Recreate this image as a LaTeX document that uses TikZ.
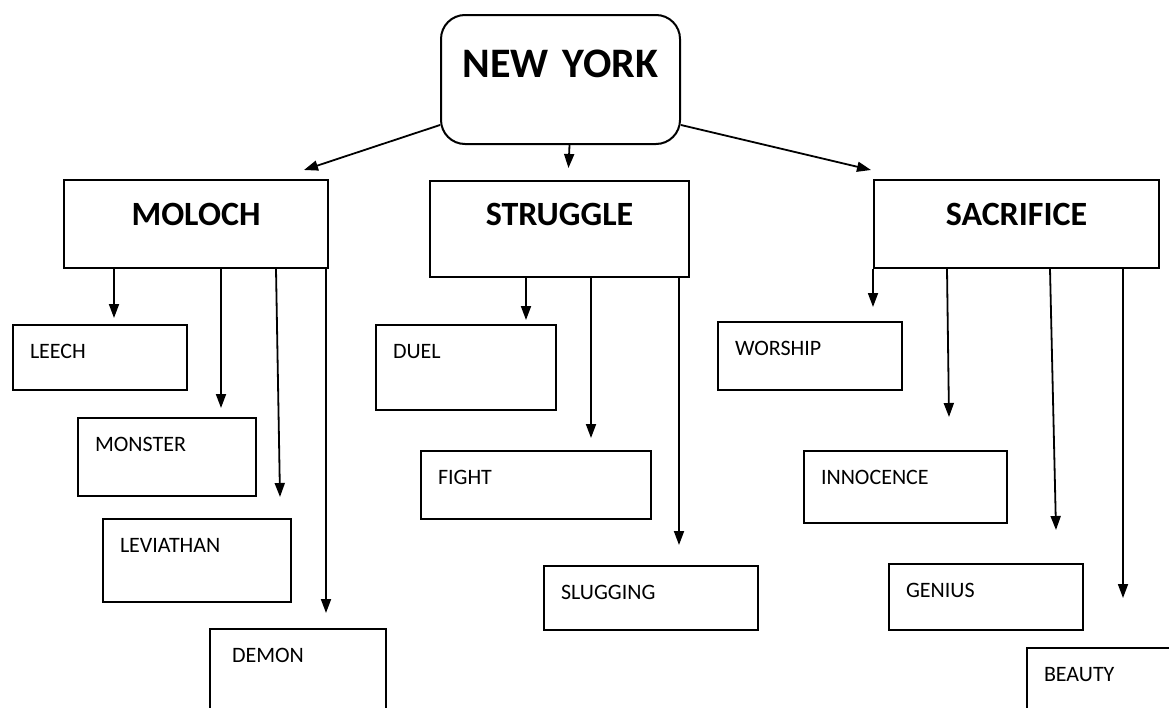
\documentclass[tikz,border=0pt]{standalone}
\usepackage{fontspec}
\setmainfont{Carlito}
\usetikzlibrary{arrows.meta}
\tikzset{
  topic/.style={
    rectangle, draw=black, line width=2pt, anchor=north west,
    inner sep=0pt, align=center, font=\bfseries\fontsize{34}{34}\selectfont
  },
  word/.style={
    rectangle, draw=black, line width=2pt, anchor=north west,
    inner xsep=17pt, inner ysep=0pt, align=left, text height=33pt,
    font=\fontsize{22}{22}\selectfont
  },
  arrow/.style={-{Triangle[length=14pt,width=10pt]}, line width=1.8pt, draw=black}
}

\begin{document}
\begin{tikzpicture}[x=1pt, y=-1pt]
\useasboundingbox (0,0) rectangle (1169,707);
\fill[white] (0,0) rectangle (1169,707);
\clip (0,0) rectangle (1169,707);
\node[topic, rounded corners=24pt, text width=239pt, text height=62pt, text depth=67pt,
  font=\bfseries\fontsize{42}{42}\selectfont] (newyork) at (440,14) {NEW YORK};
\node[topic, text width=264pt, text height=45pt, text depth=43pt] (moloch) at (63,179) {MOLOCH};
\node[topic, text width=259pt, text height=44pt, text depth=52pt] (struggle) at (429,180) {STRUGGLE};
\node[topic, text width=285pt, text height=45pt, text depth=43pt] (sacrifice) at (873,179) {SACRIFICE};
\node[word, text width=140pt, text depth=32pt] (leech) at (12,324) {LEECH};
\node[word, text width=144pt, text depth=45pt] (monster) at (77,417) {MONSTER};
\node[word, text width=154pt, text depth=50pt] (leviathan) at (102,518) {LEVIATHAN};
\node[word, text width=142pt, text depth=67pt] (demon) at (209,628) {\hspace{5pt}DEMON};
\node[word, text width=146pt, text depth=52pt] (duel) at (375,324) {DUEL};
\node[word, text width=196pt, text depth=35pt] (fight) at (420,450) {FIGHT};
\node[word, text width=180pt, text depth=31pt] (slugging) at (543,565) {SLUGGING};
\node[word, text width=150pt, text depth=35pt] (worship) at (717,321) {WORSHIP};
\node[word, text width=169pt, text depth=39pt] (innocence) at (803,450) {INNOCENCE};
\node[word, text width=160pt, text depth=33pt] (genius) at (888,563) {GENIUS};
\node[word, text width=136pt, text depth=57pt] (beauty) at (1026,647) {BEAUTY};
\draw[arrow] ([yshift=20pt]newyork.south west) -- ([xshift=-25pt,yshift=9pt]moloch.north east);
\draw[arrow] ([xshift=9pt]newyork.south) -- ([xshift=9pt,yshift=12pt]struggle.north);
\draw[arrow] ([yshift=20pt]newyork.south east) -- ([xshift=-2pt,yshift=9pt]sacrifice.north west);
\draw[arrow] ([xshift=51pt]moloch.south west) -- ([xshift=102pt,yshift=6pt]leech.north west);
\draw[arrow] ([xshift=158pt]moloch.south west) -- ([xshift=144pt,yshift=9pt]monster.north west);
\draw[arrow] ([xshift=213pt]moloch.south west) -- ([xshift=178pt,yshift=21pt]leviathan.north west);
\draw[arrow] ([xshift=263pt]moloch.south west) -- ([xshift=117pt,yshift=15pt]demon.north west);
\draw[arrow] ([xshift=97pt]struggle.south west) -- ([xshift=151pt,yshift=4pt]duel.north west);
\draw[arrow] ([xshift=162pt]struggle.south west) -- ([xshift=171pt,yshift=12pt]fight.north west);
\draw[arrow] ([xshift=250pt]struggle.south west) -- ([xshift=136pt,yshift=20pt]slugging.north west);
\draw[arrow] (sacrifice.south west) -- ([xshift=156pt,yshift=14pt]worship.north west);
\draw[arrow] ([xshift=74pt]sacrifice.south west) -- ([xshift=146pt,yshift=33pt]innocence.north west);
\draw[arrow] ([xshift=177pt]sacrifice.south west) -- ([xshift=168pt,yshift=33pt]genius.north west);
\draw[arrow] ([xshift=250pt]sacrifice.south west) -- ([xshift=97pt,yshift=49pt]beauty.north west);
\end{tikzpicture}
\end{document}
